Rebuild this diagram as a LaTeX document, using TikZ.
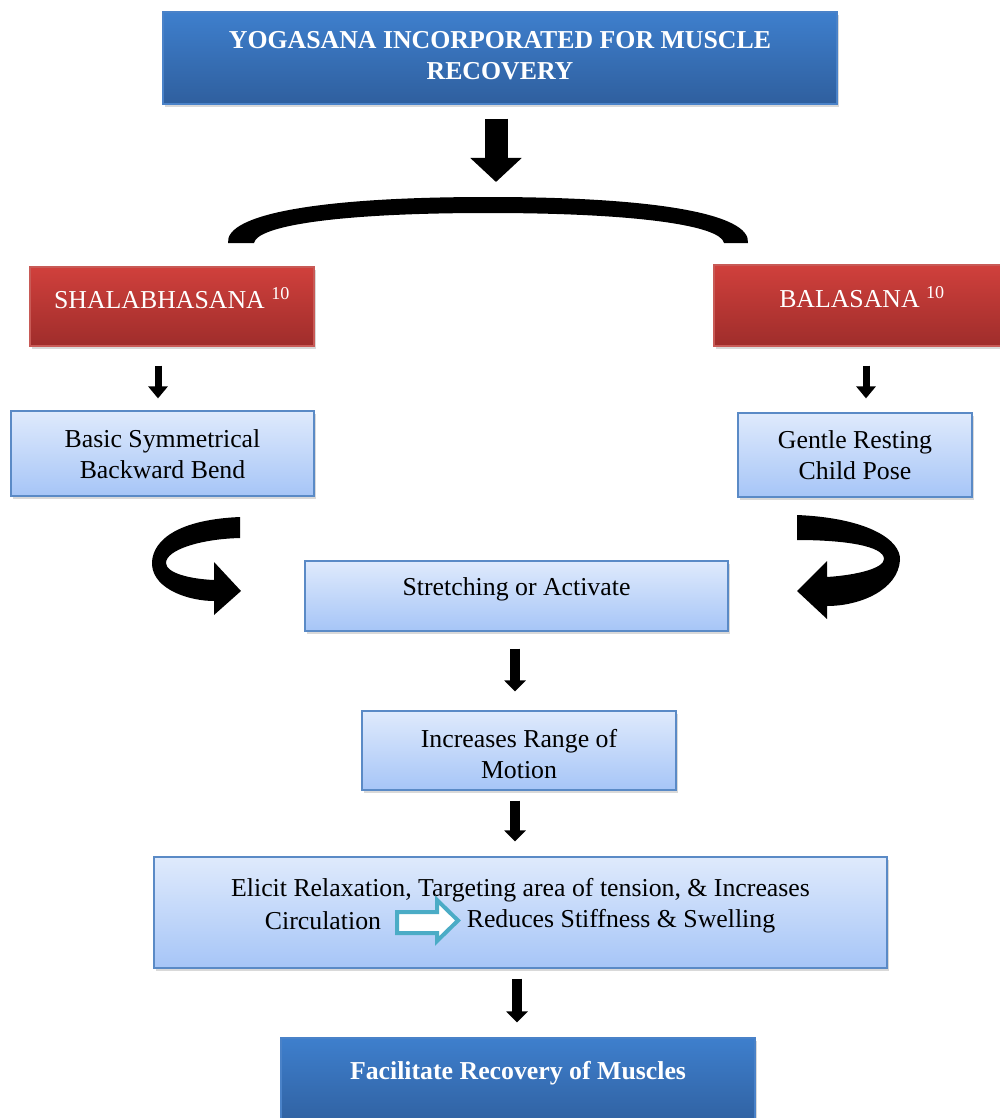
\documentclass[tikz,border=0pt]{standalone}
\usepackage{fontspec}
\setmainfont{Liberation Serif}
\usetikzlibrary{arrows.meta,shadows}
\definecolor{ttop}{HTML}{3E7FCD}
\definecolor{tbot}{HTML}{2F5F9E}
\definecolor{tedge}{HTML}{4A82C8}
\definecolor{rtop}{HTML}{D0403C}
\definecolor{rbot}{HTML}{9F2D2B}
\definecolor{redge}{HTML}{C85A56}
\definecolor{ltop}{HTML}{DFEAFC}
\definecolor{lbot}{HTML}{A6C5F7}
\definecolor{ledge}{HTML}{5A8AC6}
\definecolor{hollow}{HTML}{4BACC6}
\begin{document}
\begin{tikzpicture}[x=1pt,y=-1pt,
  box/.style={rectangle, inner sep=0pt, line width=1.2pt,
    drop shadow={shadow xshift=1.5pt, shadow yshift=-3pt, opacity=0.3}},
  titlebox/.style={box, draw=tedge, top color=ttop, bottom color=tbot},
  redbox/.style={box, draw=redge, top color=rtop, bottom color=rbot},
  bluebox/.style={box, draw=ledge, top color=ltop, bottom color=lbot},
  txt/.style={font=\fontsize{25.8}{31}\selectfont, align=center, inner sep=0pt},
  wtxt/.style={txt, text=white},
  wbtxt/.style={txt, text=white, font=\fontsize{25.8}{31}\selectfont\bfseries},
  bigarr/.style={line width=23pt, -{Triangle[width=50pt,length=24pt]}},
  midarr/.style={line width=10pt, -{Triangle[width=21pt,length=11pt]}},
  smarr/.style={line width=7pt, -{Triangle[width=19pt,length=12pt]}}]
\useasboundingbox (0,0) rectangle (1000,1118);
\clip (0,0) rectangle (1000,1118);

% boxes
\node[titlebox, minimum width=674pt, minimum height=92pt] (title) at (500,58) {};
\node[wbtxt] (titlet) at (500,55.5) {YOGASANA INCORPORATED FOR MUSCLE\\RECOVERY};

\node[redbox, minimum width=284pt, minimum height=79pt] (rl) at (172,306.5) {};
\node[wtxt] (rlt) at (172,298.5) {SHALABHASANA \textsuperscript{10}};
\node[redbox, minimum width=296pt, minimum height=81pt] (rr) at (862,305.5) {};
\node[wtxt] (rrt) at (862,297.5) {BALASANA \textsuperscript{10}};

\node[bluebox, minimum width=303pt, minimum height=85pt] (bl) at (162.5,453.5) {};
\node[txt] (blt) at (162.5,454.5) {Basic Symmetrical\\Backward Bend};
\node[bluebox, minimum width=234pt, minimum height=84pt] (br) at (855,455) {};
\node[txt] (brt) at (855,455.5) {Gentle Resting\\Child Pose};

\node[bluebox, minimum width=423pt, minimum height=70pt] (st) at (516.5,596) {};
\node[txt] (stt) at (516.5,589) {Stretching or Activate};

\node[bluebox, minimum width=314pt, minimum height=79pt] (in) at (519,750.5) {};
\node[txt] (int) at (519,754) {Increases Range of\\Motion};

\node[bluebox, minimum width=733pt, minimum height=111pt] (el) at (520.5,912.5) {};
\node[txt] (el1) at (520.5,890) {Elicit Relaxation, Targeting area of tension, \& Increases};
\node[txt] (el2) at (323,921) {Circulation};
\node[txt] (el3) at (621,921) {Reduces Stiffness \& Swelling};

\node[titlebox, minimum width=474pt, minimum height=92pt] (fac) at (518,1084) {};
\node[wbtxt] (fact) at (518,1073) {Facilitate Recovery of Muscles};

% hollow arrow
\draw[hollow, line width=4pt, fill=white, line join=miter]
  (397,912) -- (437,912) -- (437,900) -- (458,920.5) -- (437,941) -- (437,933) -- (397,933) -- cycle;

% bracket
\coordinate (brk) at (496,197);
\fill[black] (228,243) .. controls (225,214) and (320,197) .. (488,197)
  .. controls (656,197) and (751,214) .. (748,243) -- (724,243)
  .. controls (721,226) and (640,213) .. (488,213)
  .. controls (336,213) and (257,226) .. (254,243) -- cycle;

% straight arrows
\draw[bigarr, shorten <=14pt, shorten >=15pt] ([xshift=-4pt]title.south) -- (brk);
\draw[smarr, shorten <=19pt, shorten >=12pt] ([xshift=-14pt]rl.south) -- ([xshift=-4.5pt]bl.north);
\draw[smarr, shorten <=19pt, shorten >=14pt] ([xshift=4pt]rr.south) -- ([xshift=11pt]br.north);
\draw[midarr, shorten <=17pt, shorten >=19pt] ([xshift=-1.5pt]st.south) -- ([xshift=-4pt]in.north);
\draw[midarr, shorten <=10pt, shorten >=15pt] ([xshift=-4pt]in.south) -- ([xshift=-5.5pt]el.north);
\draw[midarr, shorten <=10pt, shorten >=15pt] ([xshift=-3.5pt]el.south) -- ([xshift=-1pt]fac.north);

% U-turn arrows
\fill[black] (240,517) .. controls (170,520) and (151,545) .. (152,565)
  .. controls (154,590) and (190,601) .. (214,601) -- (214,615) -- (241,591) -- (214,562) -- (214,580)
  .. controls (190,579) and (166,573) .. (166,563)
  .. controls (166,550) and (200,539) .. (240,538) -- cycle;
\fill[black] (797,515) .. controls (868,518) and (901,540) .. (900,560)
  .. controls (898,590) and (860,606) .. (827,606) -- (827,619) -- (797,591) -- (827,561) -- (827,577)
  .. controls (858,575) and (884,568) .. (884,559)
  .. controls (884,546) and (845,540) .. (797,540) -- cycle;
\end{tikzpicture}
\end{document}
